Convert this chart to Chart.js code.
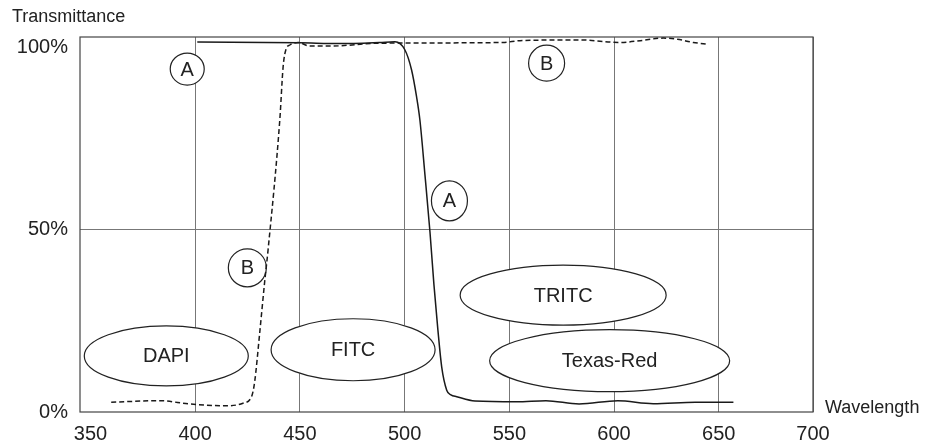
<!DOCTYPE html>
<html>
<head>
<meta charset="utf-8">
<script src="https://cdn.jsdelivr.net/npm/chart.js@4/dist/chart.umd.min.js"></script>
<style>
  html, body { margin: 0; padding: 0; background: #fff; }
  #wrap { width: 931px; height: 447px; }
</style>
</head>
<body>
<div id="wrap"><canvas id="filterChart" width="931" height="447"></canvas></div>
<script>
// curve A (solid) - wavelength / transmittance %
const A_WAVE  = [401, 450, 469, 488, 495.4, 500.1, 503.3, 505.7, 507.3, 509.7, 512.1, 514.0, 515.9, 517.7, 520.1, 522.1, 524.9, 533.6, 553.5, 567.5, 583.3, 601.8, 618.7, 638.8, 657];
const A_TRANS = [101.6, 101.4, 101.2, 101.5, 101.7, 99.5, 94.0, 86.6, 80.2, 65.2, 49.5, 35.0, 22.5, 12.4, 6.0, 4.7, 4.2, 3.0, 2.8, 3.1, 2.2, 3.1, 2.3, 2.7, 2.7];

// curve B (dashed)
const B_WAVE  = [359.9, 383, 397.4, 414.9, 422.8, 426.9, 428.4, 430.8, 433.2, 434.8, 440.4, 442, 443.3, 445.2, 449.1, 454.7, 464.3, 488.2, 547, 555.1, 583.8, 602.9, 612.5, 623.5, 630.2, 637.8, 645];
const B_TRANS = [2.7, 3.1, 2.2, 1.7, 2.4, 4.2, 8.3, 21.7, 35.9, 44.5, 80.2, 94.9, 99.5, 100.8, 101.5, 100.5, 100.5, 101.3, 101.5, 102.0, 102.2, 101.5, 102.0, 102.7, 102.4, 101.5, 101.0];

// tick labels
const X_TICKS = [350, 400, 450, 500, 550, 600, 650, 700];
const X_TICK_LABELS = ['350', '400', '450', '500', '550', '600', '650', '700'];
const Y_TICKS = [0, 50, 100];
const Y_TICK_LABELS = ['0%', '50%', '100%'];

// labels on the plot (wavelength, %)
const CIRCLE_TEXT = ['A', 'B', 'A', 'B'];
const CIRCLE_X = [396.2, 567.8, 521.4, 424.9];
const CIRCLE_Y = [94.2, 95.8, 58.0, 39.6];
const DYE_TEXT = ['DAPI', 'FITC', 'TRITC', 'Texas-Red'];
const DYE_X = [386.2, 475.4, 575.7, 597.9];
const DYE_Y = [15.4, 17.1, 32.1, 14.1];

const FONT = '"Liberation Sans", Arial, Helvetica, sans-serif';
const circleSize = [[17, 16], [18, 18], [18, 20], [19, 19]];
const dyeSize = [[82, 30], [82, 31], [103, 30], [120, 31]];

const toPoints = (xs, ys) => xs.map((x, i) => ({ x: x, y: ys[i] }));

// frame, ellipses, circles, axis titles
const decorPlugin = {
    id: 'decor',
    beforeDatasetsDraw(chart) {
        const { ctx, chartArea, scales } = chart;
        ctx.save();
        ctx.strokeStyle = '#444';
        ctx.lineWidth = 1.2;
        ctx.strokeRect(chartArea.left, chartArea.top, chartArea.right - chartArea.left, chartArea.bottom - chartArea.top);

        ctx.lineWidth = 1.2;
        ctx.strokeStyle = '#222';
        // fill first so overlapping outlines stay visible
        const shapes = [];
        DYE_TEXT.forEach((t, i) => shapes.push({ t, x: DYE_X[i], y: DYE_Y[i], rx: dyeSize[i][0], ry: dyeSize[i][1], size: 20 }));
        CIRCLE_TEXT.forEach((t, i) => shapes.push({ t, x: CIRCLE_X[i], y: CIRCLE_Y[i], rx: circleSize[i][0], ry: circleSize[i][1], size: 20 }));
        shapes.forEach(s => {
            ctx.beginPath();
            ctx.ellipse(scales.x.getPixelForValue(s.x), scales.y.getPixelForValue(s.y), s.rx, s.ry, 0, 0, Math.PI * 2);
            ctx.fillStyle = '#fff';
            ctx.fill();
        });
        shapes.forEach(s => {
            const px = scales.x.getPixelForValue(s.x);
            const py = scales.y.getPixelForValue(s.y);
            ctx.beginPath();
            ctx.ellipse(px, py, s.rx, s.ry, 0, 0, Math.PI * 2);
            ctx.stroke();
            ctx.fillStyle = '#222';
            ctx.font = s.size + 'px ' + FONT;
            ctx.textAlign = 'center';
            ctx.textBaseline = 'middle';
            ctx.fillText(s.t, px, py + 1);
        });
        ctx.restore();
    },
    afterDraw(chart) {
        const { ctx } = chart;
        ctx.save();
        ctx.fillStyle = '#222';
        ctx.font = '18px ' + FONT;
        ctx.textAlign = 'left';
        ctx.textBaseline = 'middle';
        ctx.fillText('Transmittance', 12, 17);
        ctx.fillText('Wavelength', 825, 408);
        ctx.restore();
    }
};

new Chart(document.getElementById('filterChart'), {
    type: 'line',
    data: {
        datasets: [
            {
                label: 'A',
                data: toPoints(A_WAVE, A_TRANS),
                borderColor: '#1a1a1a',
                borderWidth: 1.5,
                pointRadius: 0,
                cubicInterpolationMode: 'monotone',
                fill: false
            },
            {
                label: 'B',
                data: toPoints(B_WAVE, B_TRANS),
                borderColor: '#1a1a1a',
                borderWidth: 1.5,
                borderDash: [5, 3],
                pointRadius: 0,
                cubicInterpolationMode: 'monotone',
                fill: false
            }
        ]
    },
    options: {
        responsive: false,
        animation: false,
        layout: { padding: { top: 37, right: 118, left: 0, bottom: 0 } },
        plugins: {
            legend: { display: false },
            tooltip: { enabled: false }
        },
        scales: {
            x: {
                type: 'linear',
                min: 345,
                max: 695,
                border: { display: false },
                afterBuildTicks: function (scale) {
                    scale.ticks = X_TICKS.map(v => ({ value: Math.min(v, scale.max) }));
                },
                afterFit: function (scale) { scale.height = 35; },
                grid: {
                    drawTicks: false,
                    color: function (c) { return c.index === 0 ? 'rgba(0,0,0,0)' : '#777'; },
                    lineWidth: 1
                },
                ticks: {
                    padding: 10,
                    color: '#222',
                    font: { family: FONT, size: 20 },
                    maxRotation: 0,
                    autoSkip: false,
                    callback: function (value, index) { return X_TICK_LABELS[index]; }
                }
            },
            y: {
                min: 0,
                max: 103,
                border: { display: false },
                afterBuildTicks: function (scale) {
                    scale.ticks = Y_TICKS.map(v => ({ value: v }));
                },
                afterFit: function (scale) { scale.width = 80; },
                grid: {
                    drawTicks: false,
                    color: function (c) { return c.tick && c.tick.value === 50 ? '#777' : 'rgba(0,0,0,0)'; },
                    lineWidth: 1
                },
                ticks: {
                    padding: 12,
                    color: '#222',
                    font: { family: FONT, size: 20 },
                    autoSkip: false,
                    callback: function (value, index) { return Y_TICK_LABELS[index]; }
                }
            }
        }
    },
    plugins: [decorPlugin]
});
</script>
</body>
</html>
